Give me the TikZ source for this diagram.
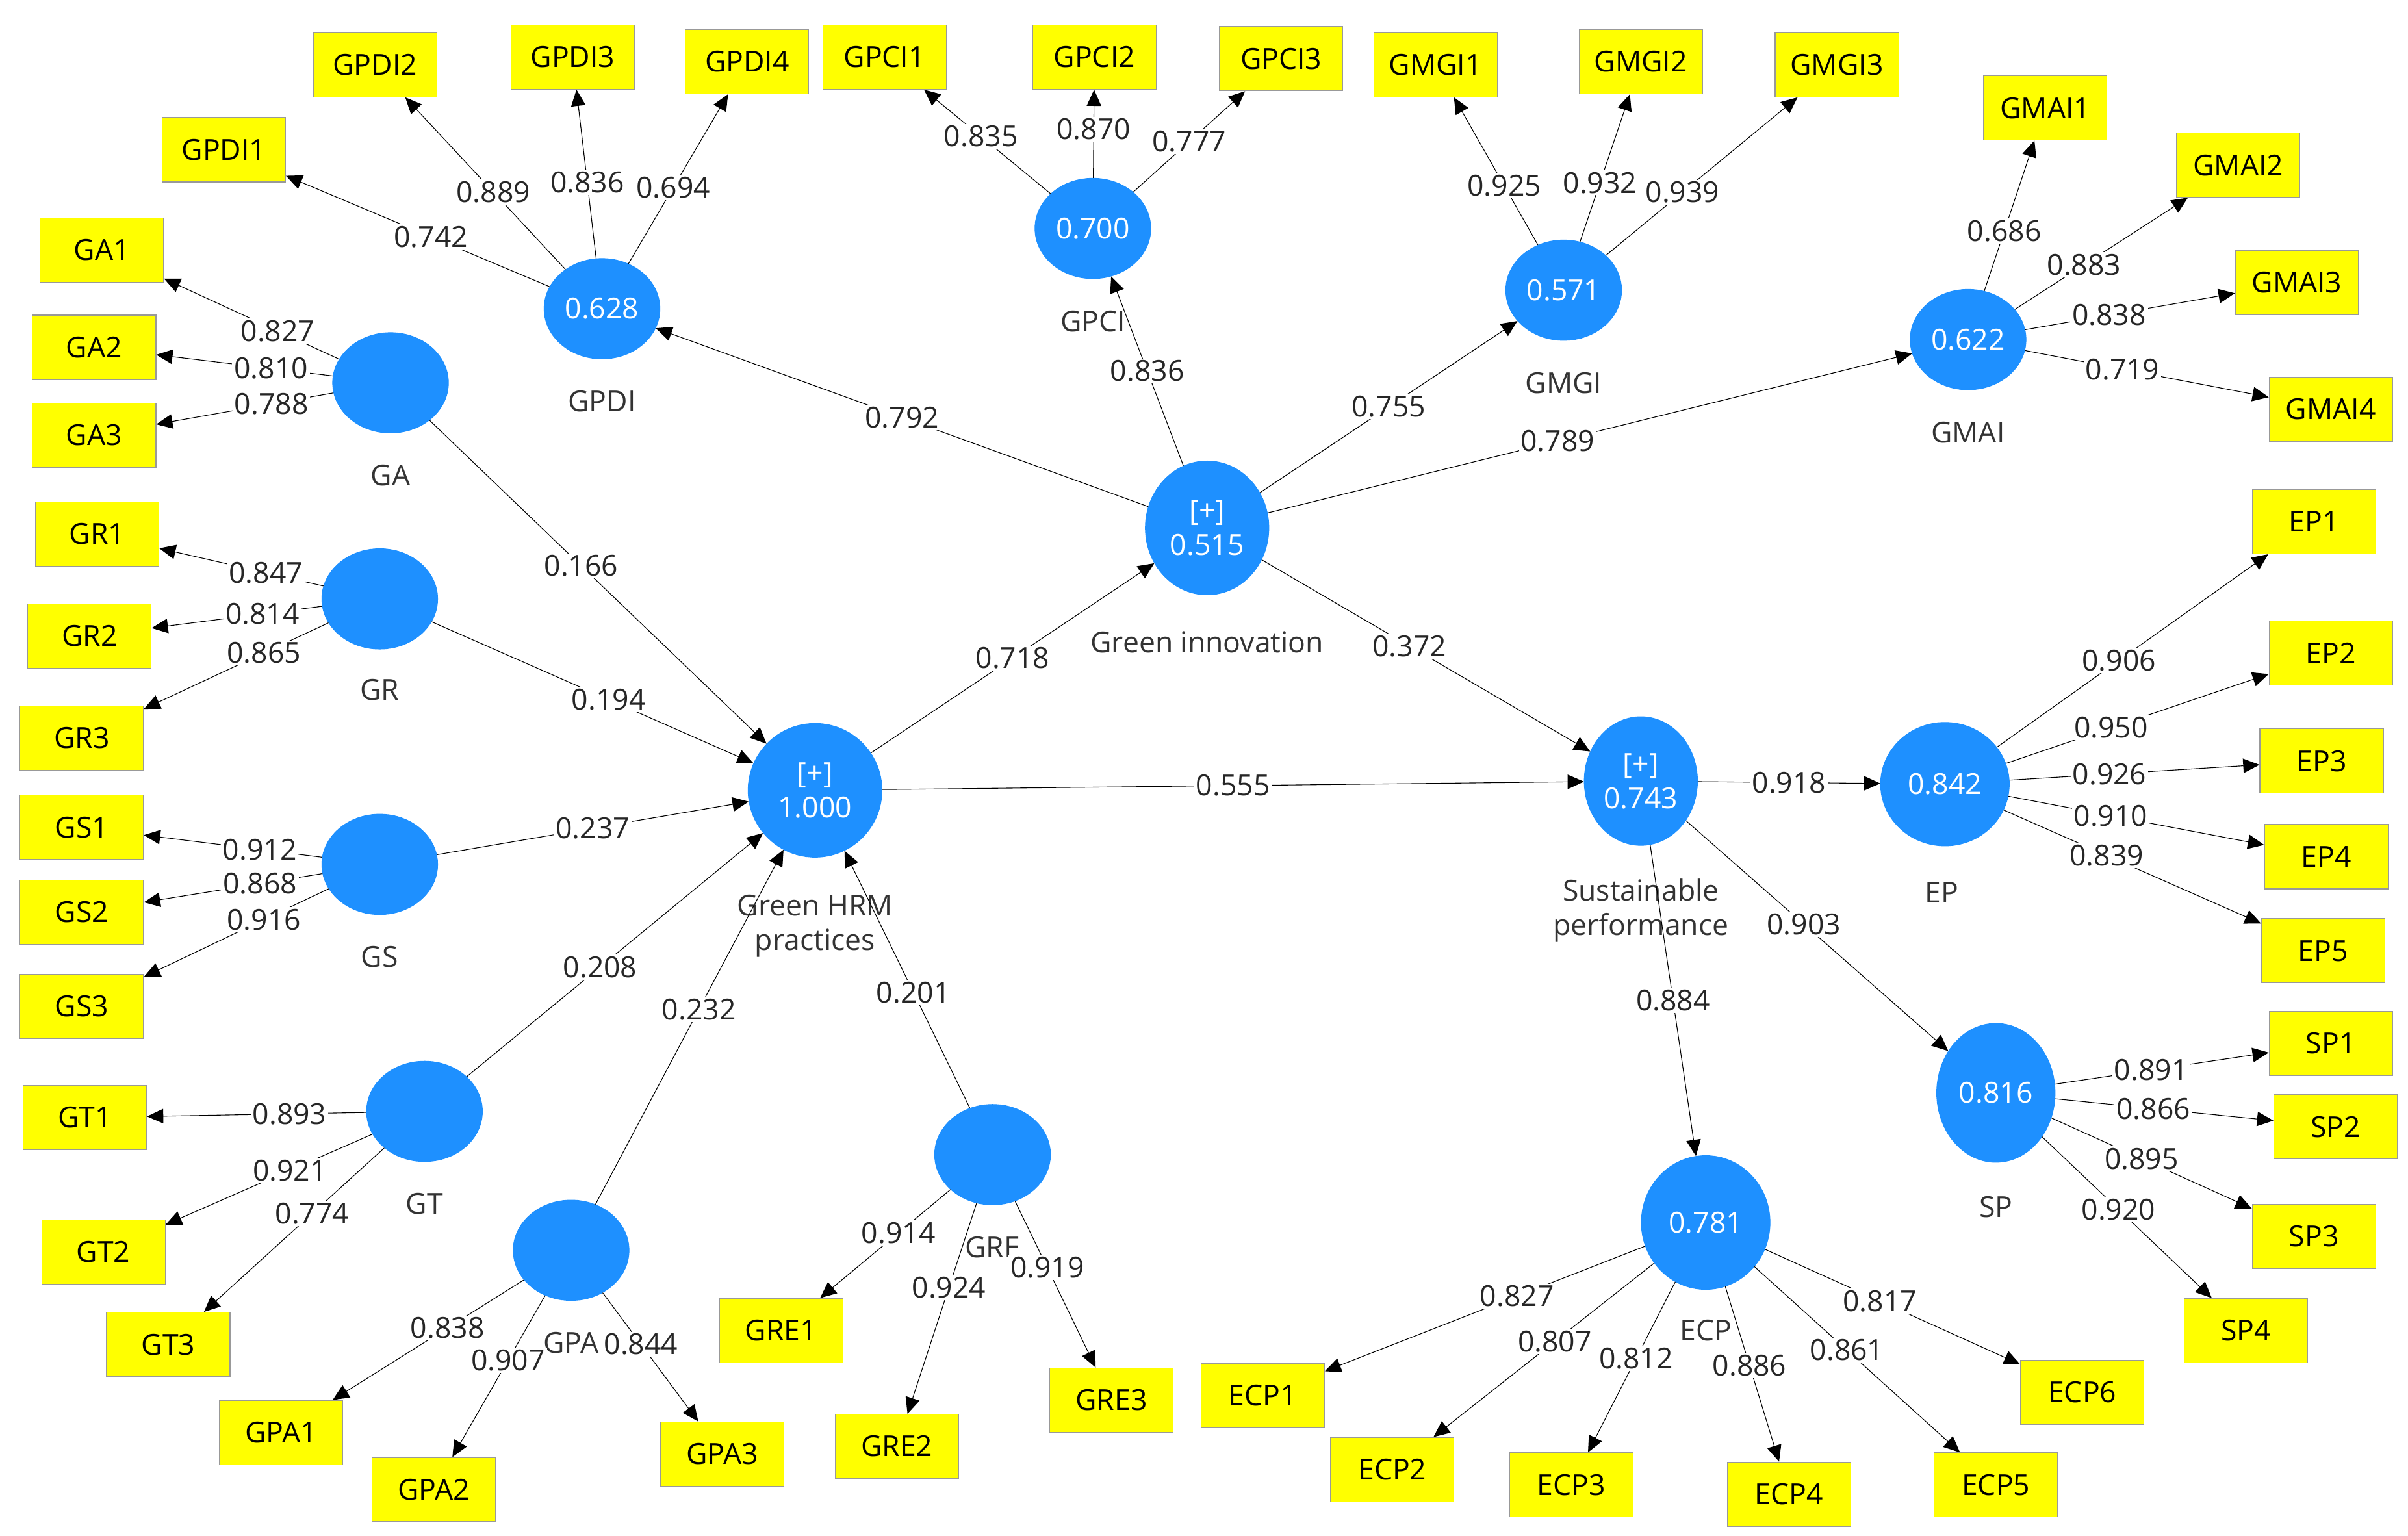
\documentclass[tikz,border=0pt]{standalone}
\usepackage{fontspec}
\setmainfont{Open Sans}
\usetikzlibrary{arrows.meta,shapes.geometric}
\definecolor{lvblue}{RGB}{30,144,255}
\definecolor{mvyellow}{RGB}{255,255,0}
\begin{document}
\begin{tikzpicture}[x=0.03cm,y=-0.03cm,>={Triangle[length=9pt,width=8pt]},
  font=\fontsize{16}{19}\selectfont]
  \tikzset{LVnode/.style={ellipse,fill=lvblue,draw=lvblue,text=white,minimum width=2.25cm,minimum height=1.95cm,inner sep=0pt,align=center},
    MVnode/.style={rectangle,fill=mvyellow,draw=black!40,minimum width=2.4cm,minimum height=1.25cm},
    LVname/.style={text=black!80},
    coef/.style={fill=white,inner sep=1pt,text=black!85}}
  \useasboundingbox (0,0) rectangle (1560,995);

  % latent variables
  \node[LVnode] (GPDI) at (390,200) {0.628};
  \node[LVnode] (GPCI) at (708,148) {0.700};
  \node[LVnode] (GMGI) at (1013,188) {0.571};
  \node[LVnode] (GMAI) at (1275,220) {0.622};
  \node[LVnode] (GA) at (253,248) {};
  \node[LVnode] (GR) at (246,388) {};
  \node[LVnode] (GS) at (246,560) {};
  \node[LVnode] (GT) at (275,720) {};
  \node[LVnode] (GPA) at (370,810) {};
  \node[LVnode] (GRE) at (643,748) {};
  \node[LVnode,minimum width=2.6cm,minimum height=2.6cm] (HRM) at (528,512) {[+]\\1.000};
  \node[LVnode,minimum width=2.4cm,minimum height=2.6cm] (GI) at (782,342) {[+]\\0.515};
  \node[LVnode,minimum width=2.2cm,minimum height=2.5cm] (SUS) at (1063,506) {[+]\\0.743};
  \node[LVnode,minimum width=2.5cm,minimum height=2.4cm] (EP) at (1260,508) {0.842};
  \node[LVnode,minimum width=2.3cm,minimum height=2.7cm] (SP) at (1293,708) {0.816};
  \node[LVnode,minimum width=2.5cm,minimum height=2.6cm] (ECP) at (1105,792) {0.781};

  % latent names
  \node[LVname] (nGPDI) at (390,260) {GPDI};
  \node[LVname] (nGPCI) at (708,208) {GPCI};
  \node[LVname] (nGMGI) at (1013,248) {GMGI};
  \node[LVname] (nGMAI) at (1275,280) {GMAI};
  \node[LVname] (nGA) at (253,308) {GA};
  \node[LVname] (nGR) at (246,447) {GR};
  \node[LVname] (nGS) at (246,620) {GS};
  \node[LVname] (nGT) at (275,780) {GT};
  \node[LVname] (nGPA) at (370,870) {GPA};
  \node[LVname] (nGRE) at (643,808) {GRE};
  \node[LVname,align=center] (nHRM) at (528,600) {Green HRM\\practices};
  \node[LVname] (nGI) at (782,416) {Green innovation};
  \node[LVname,align=center] (nSUS) at (1063,590) {Sustainable\\performance};
  \node[LVname] (nEP) at (1258,578) {EP};
  \node[LVname] (nSP) at (1293,782) {SP};
  \node[LVname] (nECP) at (1105,862) {ECP};

  % indicators
  \foreach \n/\x/\y in {GPDI1/145/97,GPDI2/243/42,GPDI3/371/37,GPDI4/484/40,
      GPCI1/573/37,GPCI2/709/37,GPCI3/830/38,GMGI1/930/42,GMGI2/1063/40,GMGI3/1190/42,
      GMAI1/1325/70,GMAI2/1450/107,GMAI3/1488/183,GMAI4/1510/265,
      GA1/66/162,GA2/61/225,GA3/61/282,GR1/63/346,GR2/58/412,GR3/53/478,
      GS1/53/536,GS2/53/591,GS3/53/652,GT1/55/724,GT2/67/811,GT3/109/871,
      GPA1/182/928,GPA2/281/965,GPA3/468/942,GRE1/506/862,GRE2/581/937,GRE3/720/907,
      ECP1/818/904,ECP2/902/952,ECP3/1018/962,ECP4/1159/968,ECP5/1293/962,ECP6/1349/902,
      EP1/1499/338,EP2/1510/423,EP3/1504/493,EP4/1507/555,EP5/1505/616,
      SP1/1510/676,SP2/1513/730,SP3/1499/801,SP4/1455/862}
    \node[MVnode] (\n) at (\x,\y) {\n};

  % loadings
  \foreach \a/\b/\v/\p in {GPDI/GPDI1/0.742/0.45,GPDI/GPDI2/0.889/0.45,GPDI/GPDI3/0.836/0.45,GPDI/GPDI4/0.694/0.45,
      GPCI/GPCI1/0.835/0.55,GPCI/GPCI2/0.870/0.55,GPCI/GPCI3/0.777/0.5,
      GMGI/GMGI1/0.925/0.4,GMGI/GMGI2/0.932/0.4,GMGI/GMGI3/0.939/0.4,
      GMAI/GMAI1/0.686/0.4,GMAI/GMAI2/0.883/0.4,GMAI/GMAI3/0.838/0.4,GMAI/GMAI4/0.719/0.4,
      GA/GA1/0.827/0.35,GA/GA2/0.810/0.35,GA/GA3/0.788/0.35,
      GR/GR1/0.847/0.35,GR/GR2/0.814/0.35,GR/GR3/0.865/0.35,
      GS/GS1/0.912/0.35,GS/GS2/0.868/0.35,GS/GS3/0.916/0.35,
      GT/GT1/0.893/0.35,GT/GT2/0.921/0.4,GT/GT3/0.774/0.4,
      GPA/GPA1/0.838/0.4,GPA/GPA2/0.907/0.4,GPA/GPA3/0.844/0.4,
      GRE/GRE1/0.914/0.4,GRE/GRE2/0.924/0.4,GRE/GRE3/0.919/0.4,
      ECP/ECP1/0.827/0.4,ECP/ECP2/0.807/0.45,ECP/ECP3/0.812/0.45,ECP/ECP4/0.886/0.45,ECP/ECP5/0.861/0.45,ECP/ECP6/0.817/0.45,
      EP/EP1/0.906/0.45,EP/EP2/0.950/0.4,EP/EP3/0.926/0.4,EP/EP4/0.910/0.4,EP/EP5/0.839/0.4,
      SP/SP1/0.891/0.45,SP/SP2/0.866/0.45,SP/SP3/0.895/0.45,SP/SP4/0.920/0.45}
    \draw[->] (\a) -- (\b) node[coef,pos=\p] {\v};

  % paths
  \foreach \a/\b/\v/\p in {GA/HRM/0.166/0.45,GR/HRM/0.194/0.55,GS/HRM/0.237/0.5,GT/HRM/0.208/0.45,
      GPA/HRM/0.232/0.55,GRE/HRM/0.201/0.45,HRM/GI/0.718/0.5,HRM/SUS/0.555/0.5,
      GI/GPDI/0.792/0.5,GI/GPCI/0.836/0.5,GI/GMGI/0.755/0.5,GI/GMAI/0.789/0.45,GI/SUS/0.372/0.45,
      SUS/EP/0.918/0.5,SUS/SP/0.903/0.45,SUS/ECP/0.884/0.5}
    \draw[->] (\a) -- (\b) node[coef,pos=\p] {\v};
\end{tikzpicture}
\end{document}
